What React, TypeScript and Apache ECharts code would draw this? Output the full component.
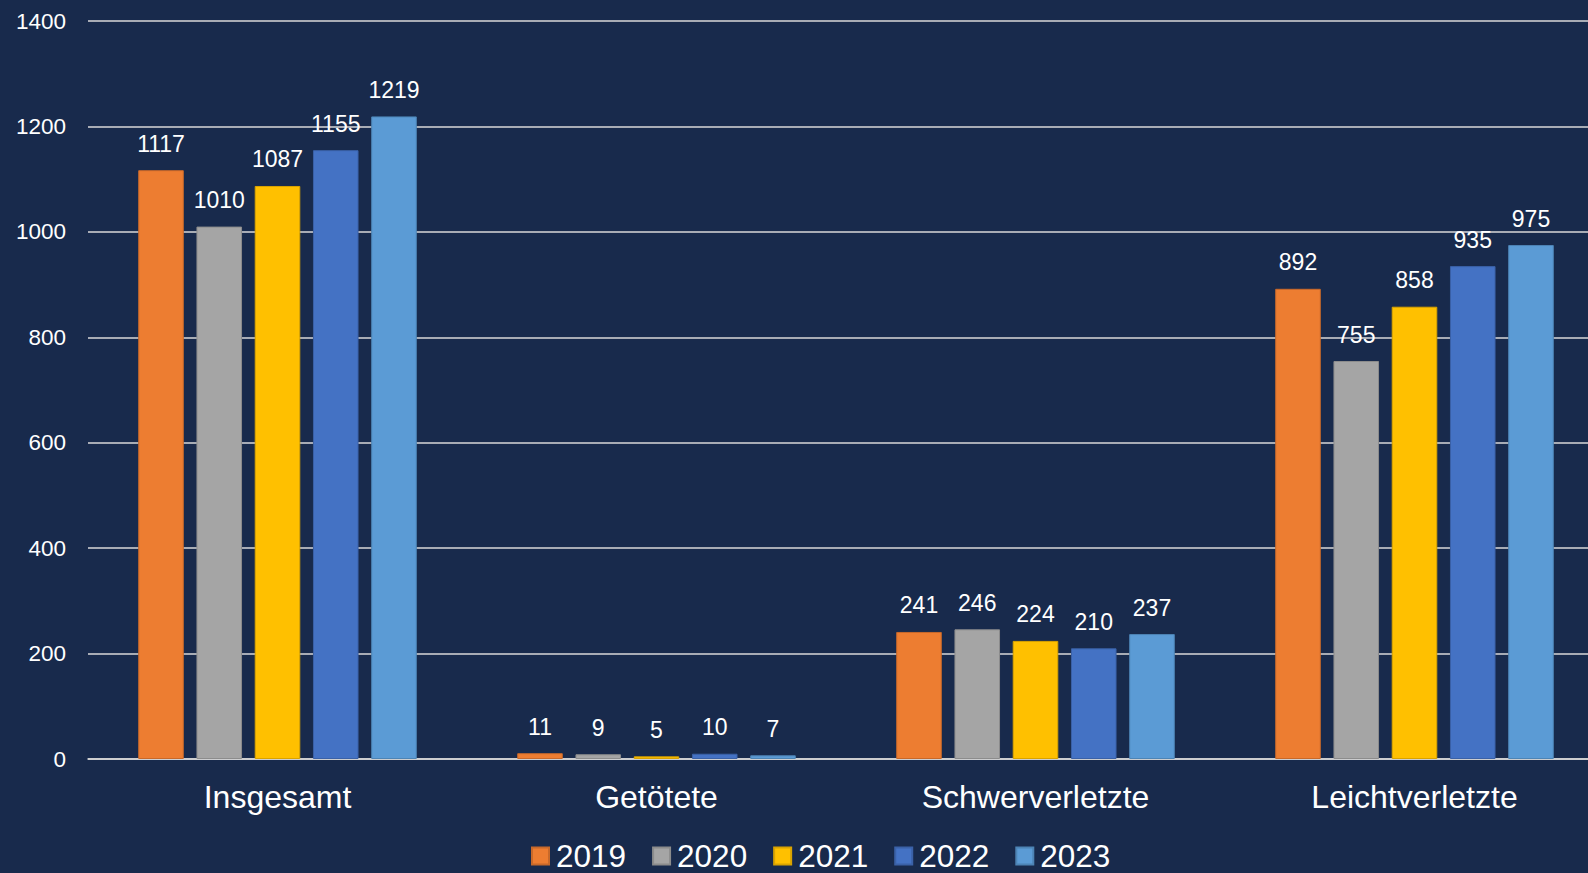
import React, { useEffect, useRef } from "react";
import * as echarts from "echarts";

const categories = ["Insgesamt", "Getötete", "Schwerverletzte", "Leichtverletzte"];
const years = ["2019", "2020", "2021", "2022", "2023"];
const values2019 = [1117, 11, 241, 892];
const values2020 = [1010, 9, 246, 755];
const values2021 = [1087, 5, 224, 858];
const values2022 = [1155, 10, 210, 935];
const values2023 = [1219, 7, 237, 975];
const colors = ["#ED7D31", "#A5A5A5", "#FFC000", "#4472C4", "#5B9BD5"];
const borders = ["#C8692A", "#8C8C8C", "#D9A300", "#3A61A7", "#4D84B5"];
const yTicks = { min: 0, max: 1400, interval: 200 };

export default function App() {
  const ref = useRef<HTMLDivElement>(null);
  useEffect(() => {
    if (!ref.current) return;
    const chart = echarts.init(ref.current, null, { renderer: "svg" });
    const seriesValues = [values2019, values2020, values2021, values2022, values2023];
    const font = "'Liberation Sans', Arial, sans-serif";
    chart.setOption({
      animation: false,
      backgroundColor: "#182A4C",
      textStyle: { fontFamily: font },
      grid: { left: 88, right: 0, top: 21, bottom: 873 - 759, containLabel: false },
      legend: {
        left: 531,
        top: 840,
        padding: 0,
        itemWidth: 17,
        itemHeight: 17,
        itemGap: 26,
        icon: "rect",
        textStyle: { color: "#FFFFFF", fontSize: 31.5, fontFamily: font, padding: [0, 0, 0, 2] },
        data: years,
      },
      xAxis: {
        type: "category",
        data: categories,
        axisLine: { show: true, lineStyle: { color: "#D9D9D9", width: 1.5 } },
        axisTick: { show: false },
        axisLabel: { color: "#FFFFFF", fontSize: 32, margin: 22, fontFamily: font },
      },
      yAxis: {
        type: "value",
        min: yTicks.min,
        max: yTicks.max,
        interval: yTicks.interval,
        axisLine: { show: false },
        axisTick: { show: false },
        axisLabel: {
          color: "#FFFFFF",
          fontSize: 22.5,
          margin: 22,
          fontFamily: font,
          formatter: (v: number) => String(v),
        },
        splitLine: { lineStyle: { color: "#D9D9D9", width: 1.5 } },
      },
      series: years.map((y, i) => ({
        name: y,
        type: "bar",
        data: seriesValues[i],
        itemStyle: { color: colors[i], borderColor: borders[i], borderWidth: 1 },
        barGap: "27.8%",
        barCategoryGap: "26.5%",
        label: {
          show: true,
          position: "top",
          distance: 15,
          color: "#FFFFFF",
          fontSize: 23,
          fontFamily: font,
        },
      })),
    });
    return () => chart.dispose();
  }, []);
  return (
    <div style={{ position: "absolute", left: 0, top: 0, width: 1588, height: 873, overflow: "hidden", background: "#182A4C" }}>
      <div ref={ref} style={{ width: 1604, height: 873, position: "absolute", left: 0, top: 0 }} />
    </div>
  );
}
